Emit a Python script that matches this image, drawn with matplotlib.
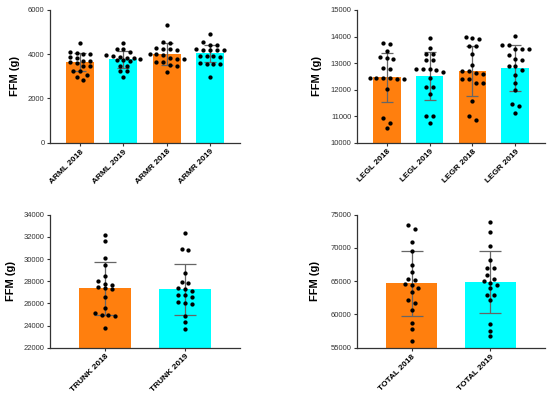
import numpy as np
import matplotlib
matplotlib.use("Agg")
import matplotlib.pyplot as plt

plt.rcParams['font.family'] = ['Liberation Sans', 'DejaVu Sans']

# ---------------- data ----------------
arm_labels = ["ARML 2018", "ARML 2019", "ARMR 2018", "ARMR 2019"]
arm_means = [3650, 3770, 3996, 4040]
arm_sds = [420, 370, 490, 380]
arm_points = [
    [4490, 4110, 4050, 4020, 3990, 3880, 3830, 3700, 3680, 3660, 3620, 3480, 3450, 3260, 3230, 3050, 2960, 2830],
    [4490, 4240, 4230, 4080, 3960, 3900, 3880, 3850, 3820, 3780, 3740, 3720, 3700, 3480, 3460, 3260, 3240, 2990],
    [5320, 4540, 4520, 4280, 4250, 4230, 4180, 4000, 3990, 3980, 3820, 3800, 3790, 3660, 3640, 3520, 3490, 3180],
    [4910, 4570, 4440, 4400, 4240, 4210, 4200, 4190, 4180, 3940, 3920, 3900, 3880, 3600, 3580, 3570, 3560, 2970],
]

leg_labels = ["LEGL 2018", "LEGL 2019", "LEGR 2018", "LEGR 2019"]
leg_means = [12463, 12513, 12702, 12802]
leg_sds = [930, 890, 940, 870]
leg_points = [
    [13770, 13720, 13450, 13220, 13180, 13170, 12800, 12780, 12440, 12430, 12430, 12420, 12410, 12400, 12020, 10920, 10750, 10570],
    [13930, 13580, 13340, 13330, 13120, 13110, 12780, 12770, 12760, 12750, 12650, 12430, 12090, 12080, 11840, 11000, 10990, 10730],
    [13970, 13960, 13900, 13650, 13640, 13330, 12930, 12720, 12710, 12640, 12590, 12400, 12390, 12260, 12250, 11570, 11010, 10860],
    [14030, 13700, 13690, 13540, 13530, 13520, 13300, 13140, 13130, 12900, 12890, 12740, 12550, 12260, 11980, 11460, 11380, 11130],
]

trunk_labels = ["TRUNK 2018", "TRUNK 2019"]
trunk_means = [27352, 27262]
trunk_sds = [2380, 2300]
trunk_points = [
    [32150, 31620, 30060, 29460, 28500, 28040, 27740, 27650, 27500, 27350, 27340, 26600, 25550, 25100, 24950, 24940, 24850, 23800],
    [32370, 30870, 30810, 28770, 27950, 27860, 27350, 27260, 27140, 26780, 26740, 26540, 26120, 26000, 25900, 24850, 24310, 23680],
]

total_labels = ["TOTAL 2018", "TOTAL 2019"]
total_means = [64680, 64880]
total_sds = [4910, 4610]
total_points = [
    [73450, 72800, 70940, 69590, 67440, 66430, 65380, 65180, 64580, 64430, 64000, 63430, 62170, 61670, 60670, 58770, 57870, 56060],
    [73900, 72450, 70290, 68190, 66980, 66970, 65930, 65330, 65030, 64800, 64500, 64000, 62930, 62920, 62170, 58520, 57510, 56760],
]

arm_yticks = [0, 2000, 4000, 6000]
leg_yticks = [10000, 11000, 12000, 13000, 14000, 15000]
trunk_yticks = [22000, 24000, 26000, 28000, 30000, 32000, 34000]
total_yticks = [55000, 60000, 65000, 70000, 75000]

ORANGE = "#FF7F0E"
CYAN = "#00FFFF"
ERR = "#666666"

W, H = 550, 393
fig = plt.figure(figsize=(W / 100, H / 100), dpi=100)


def px_axes(left, top, right, bottom):
    return fig.add_axes([left / W, 1 - bottom / H, (right - left) / W, (bottom - top) / H])


def swarm_offsets(vals, ypx, dot_px=4.8, spacing_px=6.8):
    order = np.argsort(vals)[::-1]
    offs = np.zeros(len(vals))
    groups = []
    cur = []
    for idx in order:
        if cur and (vals[cur[0]] - vals[idx]) * ypx > dot_px:
            groups.append(cur)
            cur = []
        cur.append(idx)
    if cur:
        groups.append(cur)
    for g in groups:
        k = len(g)
        for i, idx in enumerate(g):
            offs[idx] = (i - (k - 1) / 2) * spacing_px
    return offs


def panel(ax, labels, means, sds, points, yticks, ylabel_x):
    n = len(labels)
    x = np.arange(n)
    colors = [ORANGE if i % 2 == 0 else CYAN for i in range(n)]
    ax.set_xlim(-0.69, n - 1 + 0.69)
    ax.set_ylim(yticks[0], yticks[-1])
    bw = 0.65
    ax.bar(x, means, width=bw, color=colors, zorder=1, edgecolor='none')
    pos = ax.get_position()
    wpx = pos.width * W
    hpx = pos.height * H
    xpx = wpx / (ax.get_xlim()[1] - ax.get_xlim()[0])
    ypx = hpx / (yticks[-1] - yticks[0])
    cap = bw * xpx * 0.22 * 0.72
    ax.errorbar(x, means, yerr=sds, fmt='none', ecolor=ERR, elinewidth=0.9,
                capsize=cap, capthick=0.9, zorder=2)
    for i, vals in enumerate(points):
        vals = np.array(vals, dtype=float)
        offs = swarm_offsets(vals, ypx) / xpx
        ax.scatter(x[i] + offs, vals, s=9.5, color='black', zorder=3, linewidths=0)
    ax.set_yticks(yticks)
    ax.set_yticklabels([str(t) for t in yticks], fontsize=5.5, color='#333333')
    ax.set_xticks(x)
    ax.set_xticklabels(labels, rotation=45, ha='right', rotation_mode='anchor',
                       fontsize=6, fontweight='bold')
    ax.tick_params(axis='both', length=2.5, width=0.8, pad=1.5, color='#333333')
    for s in ['top', 'right']:
        ax.spines[s].set_visible(False)
    for s in ['left', 'bottom']:
        ax.spines[s].set_linewidth(0.9)
        ax.spines[s].set_color('#333333')
    ax.set_ylabel("FFM (g)", fontsize=8, fontweight='bold')
    ax.yaxis.set_label_coords(ylabel_x, 0.5)


ax1 = px_axes(50, 10, 240, 142.7)
panel(ax1, arm_labels, arm_means, arm_sds, arm_points, arm_yticks, -0.158)
ax2 = px_axes(357, 10, 545, 142.7)
panel(ax2, leg_labels, leg_means, leg_sds, leg_points, leg_yticks, -0.186)
ax3 = px_axes(50, 214.7, 240, 347.7)
panel(ax3, trunk_labels, trunk_means, trunk_sds, trunk_points, trunk_yticks, -0.18)
ax4 = px_axes(357, 214.7, 545, 347.7)
panel(ax4, total_labels, total_means, total_sds, total_points, total_yticks, -0.197)

fig.savefig("out.png", dpi=100)
